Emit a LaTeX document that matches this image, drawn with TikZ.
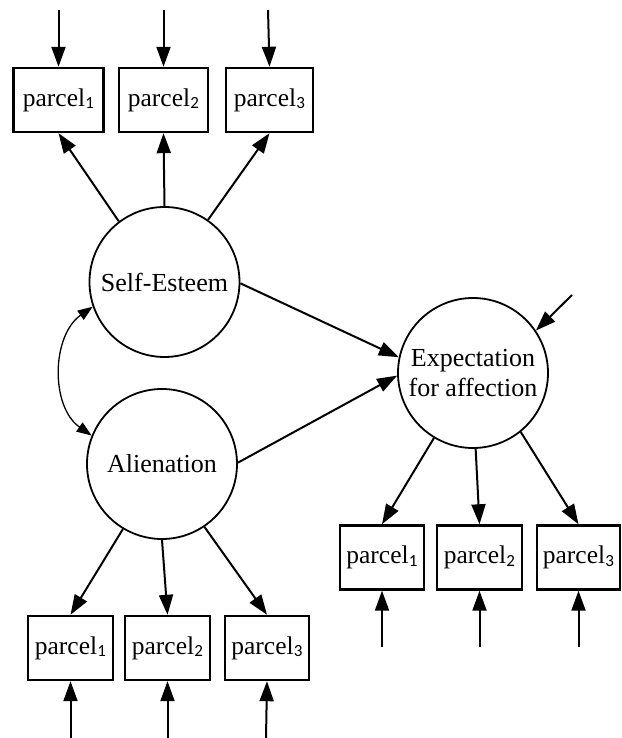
\documentclass[tikz,border=0pt]{standalone}
\usepackage{fontspec}
\setmainfont{Liberation Serif}
\newfontfamily\subfont{Carlito}
\usetikzlibrary{arrows.meta}
\newcommand{\pcl}[1]{parcel\kern0.3pt{\subfont\fontsize{17}{17}\selectfont\raisebox{-2.5pt}{#1}}}
\tikzset{
  obs/.style={draw, line width=2.4pt, minimum width=86pt, minimum height=64pt, inner sep=0pt, font=\fontsize{25.5}{28}\selectfont},
  lat/.style={draw, circle, line width=1.8pt, minimum size=150pt, inner sep=0pt, font=\fontsize{26}{30}\selectfont, align=center},
  arr/.style={line width=2pt, -{Triangle[length=20pt,width=14pt]}},
  cov/.style={line width=1.3pt, {Triangle[length=15pt,width=11pt]}-{Triangle[length=15pt,width=11pt]}}
}
\begin{document}
\begin{tikzpicture}[x=1pt,y=1pt]
\useasboundingbox (0,0) rectangle (621,738);
% latent variables
\node[lat] (se) at (164.5,456) {Self-Esteem};
\node[lat] (al) at (162,274) {Alienation};
\node[lat] (ex) at (473,365) {\fontsize{26}{31}\selectfont Expectation\\for affection};
% top indicators
\node[obs, minimum width=90pt] (a1) at (58.5,638) {\pcl{1}};
\node[obs, minimum width=89pt] (a2) at (163.5,638) {\pcl{2}};
\node[obs, minimum width=87pt] (a3) at (269.5,638) {\pcl{3}};
% bottom-left indicators
\node[obs, minimum width=85pt] (b1) at (70.5,90) {\pcl{1}};
\node[obs, minimum width=85pt] (b2) at (167.5,90) {\pcl{2}};
\node[obs, minimum width=84pt] (b3) at (267,90) {\pcl{3}};
% bottom-right indicators
\node[obs, minimum width=84pt] (c1) at (382,180.5) {\pcl{1}};
\node[obs, minimum width=85pt] (c2) at (479.5,180.5) {\pcl{2}};
\node[obs, minimum width=83pt] (c3) at (578.5,180.5) {\pcl{3}};
% error sources
\coordinate (ea1) at (58.5,728);
\coordinate (ea2) at (163.5,728);
\coordinate (ea3) at (268,728);
\coordinate (eb1) at (70.5,0);
\coordinate (eb2) at (167.5,0);
\coordinate (eb3) at (266,0);
\coordinate (ec1) at (382,91);
\coordinate (ec2) at (479.5,91);
\coordinate (ec3) at (578.5,91);
\coordinate (eex) at (572,443);
% error arrows
\draw[arr] (ea1) -- (a1.north);
\draw[arr] (ea2) -- (a2.north);
\draw[arr] (ea3) -- (a3.north);
\draw[arr] (eb1) -- (b1.south);
\draw[arr] (eb2) -- (b2.south);
\draw[arr] (eb3) -- (b3.south);
\draw[arr] (ec1) -- (c1.south);
\draw[arr] (ec2) -- (c2.south);
\draw[arr] (ec3) -- (c3.south);
\draw[arr] (eex) -- (ex.34);
% loadings
\draw[arr] (se.127) -- (a1.south);
\draw[arr] (se.90) -- (a2.south);
\draw[arr] (se.55) -- (a3.south);
\draw[arr] (al.-121) -- (b1.north);
\draw[arr] (al.-90) -- (b2.north);
\draw[arr] (al.-56) -- (b3.north);
\draw[arr] (ex.-121) -- (c1.north);
\draw[arr] (ex.-88) -- (c2.north);
\draw[arr] (ex.-51) -- (c3.north);
% structural paths
\draw[arr] (se.-1) -- (ex.168);
\draw[arr] (al.1) -- (ex.182);
% covariance
\draw[cov] (se.199) to[out=215,in=145] (al.158);
\end{tikzpicture}
\end{document}
